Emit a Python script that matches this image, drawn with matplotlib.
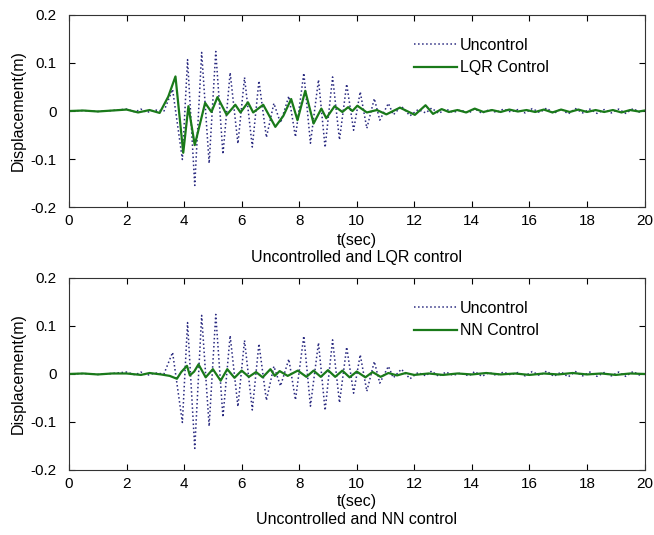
import matplotlib.pyplot as plt

plt.rcParams['font.family'] = ['Liberation Sans', 'DejaVu Sans']

t_unc = [0, 0.5, 1.0, 1.5, 2.0, 2.3, 2.5, 2.7, 3.0, 3.3, 3.6, 3.94, 4.12, 4.37, 4.61,
         4.87, 5.10, 5.35, 5.60, 5.87, 6.10, 6.37, 6.60, 6.86, 7.12, 7.35, 7.64, 7.87,
         8.16, 8.39, 8.67, 8.90, 9.16, 9.40, 9.65, 9.89, 10.12, 10.35, 10.61, 10.80,
         11.10, 11.27, 11.55, 11.85, 12.13, 12.4, 12.6, 12.85, 13.1, 13.35, 13.6, 13.9,
         14.1, 14.35, 14.6, 14.85, 15.1, 15.35, 15.6, 15.85, 16.1, 16.35, 16.6, 16.85,
         17.1, 17.35, 17.6, 17.85, 18.1, 18.35, 18.6, 18.85, 19.1, 19.35, 19.6, 19.85, 20.0]
x_unc = [0, 0.001, -0.001, 0.001, 0.004, -0.002, 0.004, -0.003, 0.002, 0.0, 0.045, -0.101,
         0.107, -0.155, 0.122, -0.109, 0.124, -0.090, 0.080, -0.068, 0.070, -0.075, 0.063,
         -0.055, 0.016, -0.025, 0.031, -0.054, 0.079, -0.067, 0.065, -0.076, 0.071, -0.060,
         0.056, -0.040, 0.040, -0.036, 0.026, -0.019, 0.016, -0.008, 0.010, -0.010, 0.003,
         -0.004, 0.006, -0.005, 0.004, -0.003, 0.002, -0.004, 0.005, -0.005, 0.003, -0.003,
         0.004, -0.002, 0.003, -0.004, 0.005, -0.003, 0.006, -0.005, 0.004, -0.006, 0.005,
         -0.004, 0.004, -0.005, 0.003, -0.004, 0.004, -0.005, 0.005, -0.003, 0.002]

# LQR controlled response
t_lqr = [0, 0.5, 1.0, 1.5, 2.0, 2.4, 2.8, 3.15, 3.45, 3.70, 3.97, 4.15, 4.37, 4.73, 4.95,
         5.16, 5.48, 5.78, 5.96, 6.22, 6.40, 6.75, 7.17, 7.45, 7.72, 7.94, 8.21, 8.50,
         8.77, 8.94, 9.23, 9.50, 9.70, 9.85, 10.02, 10.35, 10.70, 11.03, 11.50, 12.02,
         12.39, 12.65, 12.95, 13.2, 13.5, 13.8, 14.1, 14.4, 14.7, 15.0, 15.3, 15.6, 15.9,
         16.2, 16.5, 16.8, 17.1, 17.4, 17.7, 18.0, 18.3, 18.6, 18.9, 19.2, 19.5, 19.8, 20.0]
x_lqr = [0, 0.001, -0.001, 0.001, 0.003, -0.003, 0.002, -0.004, 0.030, 0.072, -0.087,
         0.010, -0.071, 0.017, -0.002, 0.029, -0.008, 0.013, -0.003, 0.018, -0.003, 0.013,
         -0.033, -0.010, 0.025, -0.019, 0.042, -0.026, 0.005, -0.015, 0.010, -0.002, 0.008,
         0.0, 0.011, -0.003, 0.002, -0.007, 0.007, -0.008, 0.012, -0.006, 0.004, -0.002,
         0.002, -0.003, 0.005, -0.002, 0.002, -0.002, 0.003, -0.001, 0.002, -0.002, 0.003,
         -0.003, 0.003, -0.002, 0.003, -0.002, 0.002, -0.002, 0.002, -0.003, 0.002, -0.001,
         0.001]

# NN controlled response
t_nn = [0, 0.5, 1.0, 1.5, 2.0, 2.5, 2.8, 3.2, 3.5, 3.75, 3.9, 4.1, 4.2, 4.35, 4.5, 4.75,
        5.0, 5.27, 5.5, 5.75, 6.0, 6.25, 6.5, 6.73, 7.0, 7.15, 7.32, 7.6, 7.95, 8.25, 8.5,
        8.75, 9.0, 9.25, 9.5, 9.75, 10.0, 10.3, 10.55, 10.83, 11.1, 11.4, 11.7, 12.0,
        12.5, 13.0, 13.5, 14.0, 14.5, 15.0, 15.5, 16.0, 16.5, 17.0, 17.5, 18.0, 18.5,
        19.0, 19.5, 20.0]
x_nn = [0, 0.001, -0.001, 0.001, 0.001, -0.002, 0.002, -0.001, -0.004, -0.010, 0.004,
        0.017, -0.003, 0.005, 0.020, -0.007, 0.010, -0.014, 0.010, -0.008, 0.007, -0.006,
        0.004, -0.007, 0.010, -0.004, 0.006, -0.004, 0.007, -0.006, 0.007, -0.006, 0.008,
        -0.006, 0.007, -0.007, 0.005, -0.007, 0.004, -0.006, 0.002, -0.003, 0.002, -0.002,
        0.001, -0.002, 0.001, -0.001, 0.002, -0.001, 0.001, -0.002, 0.001, -0.001, 0.002,
        -0.001, 0.001, -0.002, 0.001, 0.0]

yticks = [-0.2, -0.1, 0, 0.1, 0.2]
ylabels = ['-0.2', '-0.1', '0', '0.1', '0.2']
xticks = [0, 2, 4, 6, 8, 10, 12, 14, 16, 18, 20]

unc_color = '#2a2a80'
ctl_color = '#1a7a1a'

fig = plt.figure(figsize=(6.54, 5.35), dpi=100)
ax1 = fig.add_axes([0.1055, 0.613, 0.880, 0.359])
ax2 = fig.add_axes([0.1055, 0.1215, 0.880, 0.359])

panels = [(ax1, t_lqr, x_lqr, 'LQR Control', 'Uncontrolled and LQR control', 0.5514, 0.5196),
          (ax2, t_nn, x_nn, 'NN Control', 'Uncontrolled and NN control', 0.0617, 0.0290)]

for ax, tc, xc, lab, cap, y_t, y_cap in panels:
    ax.plot(t_unc, x_unc, ':', color=unc_color, lw=1.1, label='Uncontrol')
    ax.plot(tc, xc, '-', color=ctl_color, lw=1.6, label=lab)
    ax.set_xlim(0, 20)
    ax.set_ylim(-0.2, 0.2)
    ax.set_xticks(xticks)
    ax.set_yticks(yticks)
    ax.set_yticklabels(ylabels)
    ax.tick_params(direction='in', top=True, right=True, labelsize=11, length=4)
    ax.tick_params(axis='y', pad=9)
    ax.tick_params(axis='x', pad=5)
    ax.set_ylabel('Displacement(m)', fontsize=11.5, labelpad=3)
    for s in ax.spines.values():
        s.set_linewidth(0.8)
        s.set_color('#333333')
    ax.legend(loc='upper left', bbox_to_anchor=(0.575, 0.955), frameon=False,
              fontsize=11.5, handlelength=2.7, handletextpad=0.15, labelspacing=0.45)
    fig.text(0.5455, y_t, 't(sec)', ha='center', va='center', fontsize=11.5)
    fig.text(0.5455, y_cap, cap, ha='center', va='center', fontsize=11.5)

fig.savefig('out.png', dpi=100)
